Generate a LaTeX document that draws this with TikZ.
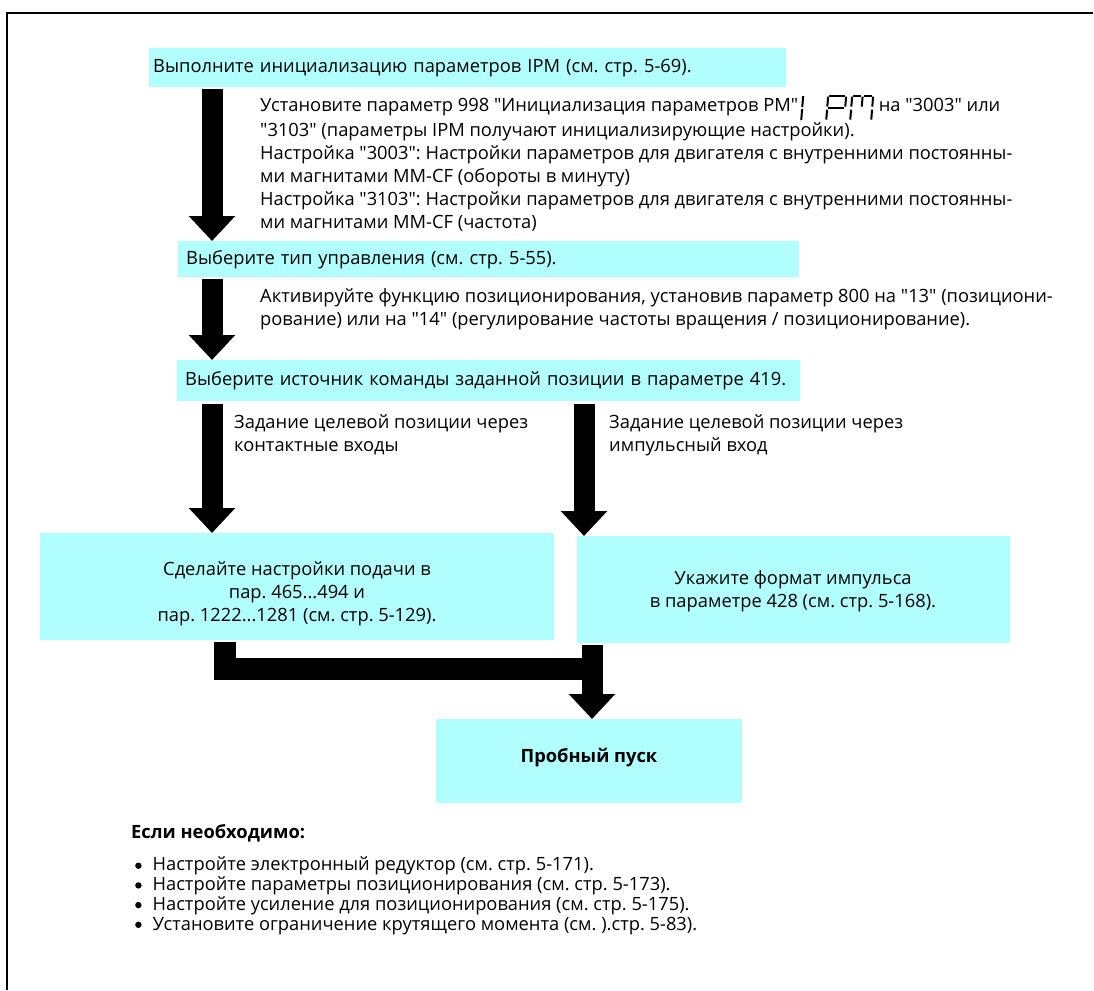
\documentclass[tikz,border=0pt]{standalone}
\usepackage{fontspec}
\setmainfont{Open Sans}[Ligatures=TeXOff]
\usetikzlibrary{arrows.meta}
\definecolor{boxcyan}{RGB}{178,255,255}
\newcommand{\ipmglyph}{\tikz[baseline=9pt,x=1pt,y=1pt,line width=2pt,xslant=0.08]{%
\draw (4,0.5)--(4,11.5); \draw (4,13.5)--(4,24.5);
\draw (30,25)--(46,25); \draw (29,14)--(29,24); \draw (29,1)--(29,11);
\draw (47,14)--(47,24); \draw (30,12.5)--(46,12.5);
\draw (54,25)--(62,25); \draw (65,25)--(73,25);
\draw (53,14)--(53,24); \draw (53,1)--(53,11);
\draw (74,14)--(74,24); \draw (74,1)--(74,11);
\draw (63.5,14)--(63.5,24);}}
\newcommand{\bulletdot}{\tikz[baseline=0pt,x=1pt,y=1pt]{\fill (3.3,5.2) circle (3.2pt);}}
\begin{document}
\frenchspacing
\begin{tikzpicture}[x=1pt,y=-1pt,font=\fontsize{18.3}{23}\selectfont,
  boxst/.style={fill=boxcyan, inner sep=0pt, anchor=north west},
  txt/.style={align=left, inner sep=0pt, anchor=base west},
  fatarrow/.style={line width=21pt, -{Triangle[width=45pt,length=25pt]}},
  fatline/.style={line width=22pt}]
\useasboundingbox (0,0) rectangle (1094,990);
\fill[white] (0,0) rectangle (1094,990);
% frame
\draw[line width=2.5pt] (1093,13) -- (7,13) -- (7,990);
% boxes
\node[boxst, minimum width=637pt, minimum height=39pt, text width=629pt, align=left] (b1) at (149,48)
  {Выполните инициализацию параметров IPM (см. стр. 5-69).};
\node[boxst, minimum width=621pt, minimum height=36pt, text width=605pt, align=left] (b2) at (178,241)
  {Выберите тип управления (см. стр. 5-55).};
\node[boxst, minimum width=623pt, minimum height=41pt, text width=607pt, align=left] (b3) at (177,360)
  {Выберите источник команды заданной позиции в параметре 419.};
\node[boxst, minimum width=514pt, minimum height=107pt] (b4) at (40,533) {};
\node[align=center, inner sep=0pt] (t4) at (297,594)
  {Сделайте настройки подачи в\\ пар. 465...494 и\\ пар. 1222...1281 (см. стр. 5-129).};
\node[boxst, minimum width=433pt, minimum height=107pt] (b5) at (577,536) {};
\node[align=center, inner sep=0pt] (t5) at (793,591)
  {Укажите формат импульса\\ в параметре 428 (см. стр. 5-168).};
\node[boxst, minimum width=306pt, minimum height=84pt] (b6) at (436,719) {};
\node[inner sep=0pt, font=\fontsize{18.3}{23}\selectfont\bfseries] (t6) at (589,758) {Пробный пуск};
% descriptions (base = baseline of last line)
\node[txt] (d1) at (260,228)
  {Установите параметр 998 "Инициализация параметров PM"\hspace{2pt}\ipmglyph\ на "3003" или\\
   "3103" (параметры IPM получают инициализирующие настройки).\\
   Настройка "3003": Настройки параметров для двигателя с внутренними постоянны-\\
   ми магнитами MM-CF (обороты в минуту)\\
   Настройка "3103": Настройки параметров для двигателя с внутренними постоянны-\\
   ми магнитами MM-CF (частота)};
\node[txt] (d2) at (260,325)
  {Активируйте функцию позиционирования, установив параметр 800 на "13" (позициони-\\
   рование) или на "14" (регулирование частоты вращения / позиционирование).};
\node[txt] (l1) at (234,451) {Задание целевой позиции через\\ контактные входы};
\node[txt] (l2) at (609,451) {Задание целевой позиции через\\ импульсный вход};
% notes
\node[txt, font=\fontsize{18.3}{23}\selectfont\bfseries] (n0) at (131,838) {Если необходимо:};
\node[txt, font=\fontsize{18.3}{19.7}\selectfont] (n1) at (135,930)
  {\bulletdot\hspace{11pt}Настройте электронный редуктор (см. стр. 5-171).\\
   \bulletdot\hspace{11pt}Настройте параметры позиционирования (см. стр. 5-173).\\
   \bulletdot\hspace{11pt}Настройте усиление для позиционирования (см. стр. 5-175).\\
   \bulletdot\hspace{11pt}Установите ограничение крутящего момента (см. ).стр. 5-83).};
% connector columns
\coordinate (cA) at (212,0);
\coordinate (cJ) at (225,0);
\coordinate (cR) at (584,0);
\coordinate (cS) at (592,0);
\coordinate (cY) at (0,669);
\draw[fatarrow, shorten <=2pt] (b1.south -| cA) -- (b2.north -| cA);
\draw[fatarrow, shorten <=2pt] (b2.south -| cA) -- (b3.north -| cA);
\draw[fatarrow, shorten <=3pt] (b3.south -| cA) -- (b4.north -| cA);
\draw[fatarrow, shorten <=3pt] (b3.south -| cR) -- (b5.north -| cR);
\draw[fatline, shorten <=2pt] (b4.south -| cJ) |- ([xshift=10.5pt]cY -| cS);
\draw[fatarrow, shorten <=2pt] (b5.south -| cS) -- (b6.north -| cS);
\end{tikzpicture}
\end{document}
